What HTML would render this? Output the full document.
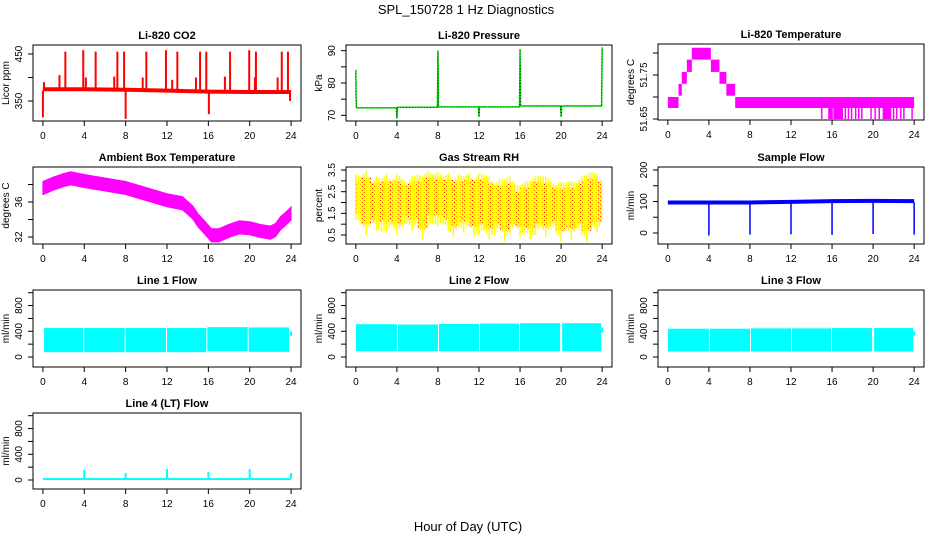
<!DOCTYPE html>
<html><head><meta charset="utf-8"><style>
html,body{margin:0;padding:0;background:#fff;}
svg{display:block;font-family:"Liberation Sans",sans-serif;}
</style></head><body>
<svg id="chart" width="936" height="540" viewBox="0 0 936 540">
<text x="466" y="14" text-anchor="middle" font-size="13">SPL_150728  1 Hz Diagnostics</text>
<text x="468" y="531" text-anchor="middle" font-size="13">Hour of Day (UTC)</text>
</svg>
<script>
// ---- data ----
const xTicks = [0,4,8,12,16,20,24];
// CO2
const co2BaseHours = [0,4,8,12,16,20,24];
const co2BaseValues = [375,375,374,372,370,369,369];
const co2SpikeHours = [0,0.1,1.6,2.17,3.9,4.15,5.1,6.9,7.2,7.85,8.0,9.65,10,11.9,12.5,13,14.8,15.2,15.8,16.05,17.6,18.1,19.95,20.5,20.6,22.7,23.1,23.7,23.9];
const co2SpikeValues = [315,390,405,455,458,400,455,402,455,455,312,400,455,458,395,455,400,455,455,322,402,455,458,400,455,400,455,455,350];
// Pressure
const presHours = [0,0.02,0.05,0.1,3.95,4.0,4.05,4.1,7.95,8.0,8.05,11.95,12.0,12.05,15.95,16.0,16.05,19.95,20.0,20.05,23.95,24.0];
const presValues = [84,76,72.4,72.3,72.3,69,72.4,72.5,72.5,90,72.6,72.6,69.5,72.6,72.6,90.5,72.9,72.9,69.5,72.9,72.9,91];
// Li-820 temperature steps
const tempStepStart = [0,1.04,1.36,1.85,2.34,4.19,5.03,5.7,6.56];
const tempStepEnd = [1.04,1.36,1.85,2.34,4.19,5.03,5.7,6.56,24];
const tempStepHigh = [51.700,51.730,51.757,51.785,51.812,51.785,51.757,51.730,51.700];
const tempStepLow = [51.675,51.703,51.730,51.757,51.785,51.757,51.730,51.703,51.675];
const tempDipHours = [15.0,15.7,15.8,15.9,16.0,16.2,16.3,16.4,16.5,16.6,16.7,16.8,16.9,17.0,17.3,17.6,17.9,18.3,18.6,18.9,19.8,20.2,20.6,21.0,21.1,21.2,21.3,21.4,21.5,21.6,21.7,22.0,22.3,22.7,23.0,23.8];
const tempDipValue = 51.650;
// Ambient box temperature
const ambHours = [0,1,2,2.7,4,6,8,10,12,13.5,14.5,15,15.7,16.3,17,18,19,20,21,22,22.5,23,23.5,24];
const ambValues = [37.6,38.1,38.5,38.7,38.4,38.0,37.6,36.9,36.2,35.85,34.8,33.9,33.0,32.2,32.2,32.7,33.1,33.0,32.7,32.5,32.8,33.6,34.1,34.7];
const ambSpread = 0.75;
// Gas stream RH
const rhHours = [0,0.5,1,1.5,2,2.5,3,3.5,4,4.5,5,5.5,6,6.5,7,7.5,8,8.5,9,9.5,10,10.5,11,11.5,12,12.5,13,13.5,14,14.5,15,15.5,16,16.5,17,17.5,18,18.5,19,19.5,20,20.5,21,21.5,22,22.5,23,23.5,24];
const rhMax = [3.3,3.2,3.45,2.9,3.2,3.1,3.3,2.9,3.3,3.1,2.9,3.2,3.3,3.2,3.45,3.3,3.4,3.2,3.35,2.9,3.3,3.2,3.35,2.9,3.35,3.3,3.2,2.8,3.1,3.1,3.2,2.8,2.8,3.0,3.0,3.25,3.2,3.2,3.0,2.8,2.95,2.9,3.0,2.9,3.2,3.3,3.4,3.3,2.4];
const rhMin = [1.2,1.0,0.5,1.2,0.7,0.6,0.6,0.9,0.5,0.9,1.0,0.7,1.0,0.3,0.9,1.0,0.9,1.0,0.7,0.4,0.9,0.6,1.1,0.4,0.5,0.7,0.3,0.5,0.9,0.2,0.5,1.0,0.4,0.6,0.3,0.5,0.9,0.4,0.9,0.6,0.2,0.9,0.3,0.8,0.5,0.2,0.9,0.6,1.0];
// Sample flow
const sampleBaseHours = [0,4,8,12,16,20,24];
const sampleBaseValues = [97,97,97,99,101,102,101];
const sampleDipHours = [4,8,12,16,20,24];
const sampleDipValues = [-8,-5,-4,-6,-3,-5];
// Line flows: segments
const line1Start = [0.1,4.0,8.0,12.0,15.9,19.9];
const line1End = [3.9,7.9,11.9,15.8,19.8,23.8];
const line1Low = [75,75,75,75,90,80];
const line1High = [450,450,450,450,465,460];
const line2Start = [0,4.1,8.1,12.1,16.0,20.1];
const line2End = [4.0,8.0,12.0,15.9,19.9,23.9];
const line2Low = [90,90,90,90,90,90];
const line2High = [510,505,515,520,525,525];
const line3Start = [0,4.1,8.1,12.1,16.0,20.1];
const line3End = [4.0,8.0,12.0,15.9,19.9,23.9];
const line3Low = [85,85,85,85,85,85];
const line3High = [440,440,445,445,450,450];
const line4BaseValue = 20;
const line4SpikeHours = [4,8,12,16,20,24];
const line4SpikeValues = [160,110,170,130,170,110];

// ---- layout ----
const svg = document.getElementById('chart');
const NS = 'http://www.w3.org/2000/svg';
function mk(tag, attrs, parent){const e=document.createElementNS(NS,tag);for(const k in attrs)e.setAttribute(k,attrs[k]);(parent||svg).appendChild(e);return e;}

function panel(name, title, ylab, box, ymin, ymax, yticks, ylabels){
  const [L,T,R,B]=box;
  const g=mk('g',{});
  
  
  const xs=h=>L+(h+0.96)/25.92*(R-L);
  const ys=v=>B-(v-ymin)/(ymax-ymin)*(B-T);
  const plot=mk('g',{},g);
  
  
  const box_=mk('rect',{x:L,y:T,width:R-L,height:B-T,fill:'none',stroke:'#000','stroke-width':1},g);
  
  
  const t=mk('text',{x:(L+R)/2,y:T-6,'text-anchor':'middle','font-size':11,'font-weight':'bold'},g);
  t.textContent=title;
  
  
  // x axis
  const xa=mk('g',{},g);
  
  
  mk('line',{x1:xs(0),x2:xs(24),y1:B,y2:B,stroke:'#000'},xa);
  xTicks.forEach(h=>{
    mk('line',{x1:xs(h),x2:xs(h),y1:B,y2:B+5,stroke:'#000'},xa);
    const tl=mk('text',{x:xs(h),y:B+18,'text-anchor':'middle','font-size':10},xa);
    tl.textContent=h;
    
    
  });
  // y axis
  const ya=mk('g',{},g);
  
  
  mk('line',{x1:L,x2:L,y1:ys(yticks[0]),y2:ys(yticks[yticks.length-1]),stroke:'#000'},ya);
  yticks.forEach((v,i)=>{
    mk('line',{x1:L-5,x2:L,y1:ys(v),y2:ys(v),stroke:'#000'},ya);
    if(ylabels[i]!==''){
      const tl=mk('text',{x:0,y:0,'text-anchor':'middle','font-size':10,transform:`translate(${L-11},${ys(v)}) rotate(-90)`},ya);
      tl.textContent=ylabels[i];
      
      
    }
  });
  const yl=mk('text',{x:0,y:0,'text-anchor':'middle','font-size':10,transform:`translate(${L-24},${(T+B)/2}) rotate(-90)`},g);
  yl.textContent=ylab;
  
  
  return {xs,ys,plot};
}
function vline(p,h,v1,v2,color,w){return mk('line',{x1:p.xs(h),x2:p.xs(h),y1:p.ys(v1),y2:p.ys(v2),stroke:color,'stroke-width':w||1.5},p.plot);}

// CO2
let p=panel('co2','Li-820 CO2','Licor ppm',[33,45,301,121],307.4,469.1,[350,400,450],['350','','450']);
co2SpikeHours.forEach((h,i)=>{
  const e=vline(p,h,372,co2SpikeValues[i],'#f00',2);
  
  
});
let pl=mk('polyline',{points:co2BaseHours.map((h,i)=>p.xs(h)+','+p.ys(co2BaseValues[i])).join(' '),fill:'none',stroke:'#f00','stroke-width':4},p.plot);



// Pressure
p=panel('pressure','Li-820 Pressure','kPa',[346,45,612,121],68.24,91.76,[70,75,80,85,90],['70','','80','','90']);
pl=mk('polyline',{points:presHours.map((h,i)=>p.xs(h)+','+p.ys(presValues[i])).join(' '),fill:'none',stroke:'#0d0','stroke-width':1.5},p.plot);


pl=mk('polyline',{points:presHours.map((h,i)=>p.xs(h)+','+p.ys(presValues[i])).join(' '),fill:'none',stroke:'#000','stroke-width':0.6,'stroke-dasharray':'1 2'},p.plot);



// Li-820 temperature
p=panel('li-temp','Li-820 Temperature','degrees C',[658,44,924,120],51.6477,51.8205,[51.65,51.70,51.75,51.80],['51.65','','51.75','']);
tempStepStart.forEach((s,i)=>{
  const r=mk('rect',{x:p.xs(s),y:p.ys(tempStepHigh[i]),width:p.xs(tempStepEnd[i])-p.xs(s),height:p.ys(tempStepLow[i])-p.ys(tempStepHigh[i]),fill:'#f0f'},p.plot);
  
  
});
tempDipHours.forEach(h=>{
  const e=vline(p,h,51.676,tempDipValue,'#f0f',1.5);
  
  
});

// Ambient
p=panel('ambient','Ambient Box Temperature','degrees C',[33,167,301,244],31.2,40,[32,34,36,38],['32','','36','']);
const upper=ambHours.map((h,i)=>p.xs(h)+','+p.ys(ambValues[i]+ambSpread));
const lower=ambHours.map((h,i)=>p.xs(h)+','+p.ys(ambValues[i]-ambSpread)).reverse();
pl=mk('polygon',{points:upper.concat(lower).join(' '),fill:'#f0f',stroke:'#f0f','stroke-width':1},p.plot);



// RH
p=panel('rh','Gas Stream RH','percent',[346,167,612,244],0.085,3.64,[0.5,1,1.5,2,2.5,3,3.5],['0.5','','1.5','','2.5','','3.5']);
const defs=mk('defs',{});
const pat=mk('pattern',{id:'rhpat',width:4,height:4,patternUnits:'userSpaceOnUse'},defs);
mk('rect',{width:4,height:4,fill:'#ff0'},pat);
mk('rect',{x:0,y:0,width:1,height:1,fill:'#f00'},pat);
mk('rect',{x:2,y:2,width:1,height:1,fill:'#f00'},pat);
rhHours.forEach((h,i)=>{
  if(i===rhHours.length-1)return;
  const x1=p.xs(h),x2=p.xs(rhHours[i+1]);
  const r=mk('rect',{x:x1,y:p.ys(Math.max(rhMax[i],rhMax[i+1])-0.3),width:x2-x1,height:p.ys(Math.min(rhMin[i],rhMin[i+1])+0.5)-p.ys(Math.max(rhMax[i],rhMax[i+1])-0.3),fill:'url(#rhpat)'},p.plot);
  
  
  const a=vline(p,h,rhMin[i],rhMax[i],'#ff0',1.5);
  
  
  const m=(h+rhHours[i+1])/2;
  const b=vline(p,m,(rhMin[i]+rhMin[i+1])/2+0.1,(rhMax[i]+rhMax[i+1])/2,'#ff0',1.5);
  
  
});

// Sample flow
p=panel('sample-flow','Sample Flow','ml/min',[658,167,924,244],-34.9,209.5,[0,50,100,150,200],['0','','100','','200']);
pl=mk('polyline',{points:sampleBaseHours.map((h,i)=>p.xs(h)+','+p.ys(sampleBaseValues[i])).join(' '),fill:'none',stroke:'#00f','stroke-width':4},p.plot);


sampleDipHours.forEach((h,i)=>{
  const e=vline(p,h,97,sampleDipValues[i],'#00f',1.5);
  
  
});

// Line flows
const flowTicks=[0,200,400,600,800,1000], flowLabels=['0','','400','','800',''];
function segs(p,st,en,lo,hi,name){
  st.forEach((s,i)=>{
    const r=mk('rect',{x:p.xs(s),y:p.ys(hi[i]),width:p.xs(en[i])-p.xs(s),height:p.ys(lo[i])-p.ys(hi[i]),fill:'#0ff'},p.plot);
    
    
  });
}
p=panel('line1','Line 1 Flow','ml/min',[33,290,301,367],-155.5,1042,flowTicks,flowLabels);
segs(p,line1Start,line1End,line1Low,line1High,'line1');
vline(p,24,330,400,'#0ff',2);
p=panel('line2','Line 2 Flow','ml/min',[346,290,612,367],-155.5,1042,flowTicks,flowLabels);
segs(p,line2Start,line2End,line2Low,line2High,'line2');
vline(p,24,380,460,'#0ff',2);
p=panel('line3','Line 3 Flow','ml/min',[658,290,924,367],-155.5,1042,flowTicks,flowLabels);
segs(p,line3Start,line3End,line3Low,line3High,'line3');
vline(p,24,330,400,'#0ff',2);
p=panel('line4','Line 4 (LT) Flow','ml/min',[33,413,301,489],-140,1042,flowTicks,flowLabels);
const l4=mk('rect',{x:p.xs(0),y:p.ys(line4BaseValue+10),width:p.xs(24)-p.xs(0),height:p.ys(0)-p.ys(line4BaseValue+10),fill:'#0ff'},p.plot);


line4SpikeHours.forEach((h,i)=>{
  const e=vline(p,h,line4BaseValue,line4SpikeValues[i],'#0ff',2);
  
  
});
</script>
</body></html>
